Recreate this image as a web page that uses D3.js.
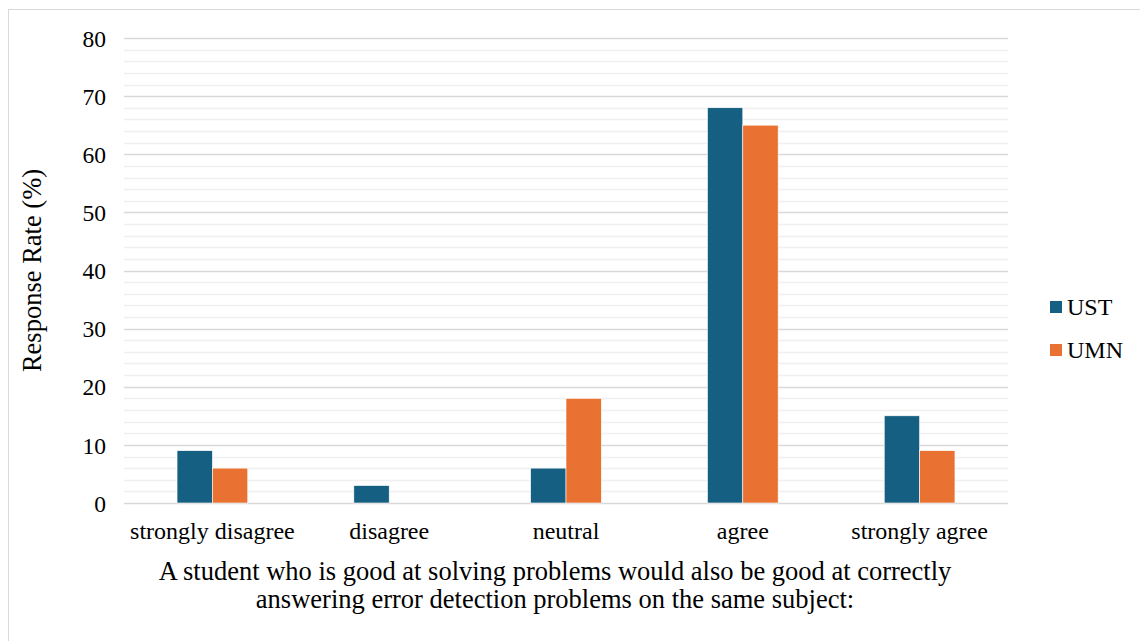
<!DOCTYPE html>
<html>
<head>
<meta charset="utf-8">
<script src="https://cdn.jsdelivr.net/npm/d3@7"></script>
<style>
  html, body { margin: 0; padding: 0; background: #fff; }
  svg { display: block; }
  text { font-family: "Liberation Serif", "Times New Roman", serif; fill: #000; }
</style>
</head>
<body>
<svg id="chart" width="1140" height="641"></svg>
<script>
const categories = ["strongly disagree", "disagree", "neutral", "agree", "strongly agree"];
const seriesNames = ["UST", "UMN"];
const ustValues = [9, 3, 6, 68, 15];
const umnValues = [6, 0, 18, 65, 9];
const yTicks = [0, 10, 20, 30, 40, 50, 60, 70, 80];
const colors = ["#156082", "#E97132"];
const xTitleLines = [
  "A student who is good at solving problems would also be good at correctly",
  "answering error detection problems on the same subject:"
];
const yTitle = "Response Rate (%)";

const svg = d3.select("#chart");
const W = 1140, H = 641;
const plot = { left: 124, right: 1008, top: 38, bottom: 503 };
const serif = "Liberation Serif";

// outer chart frame
svg.append("rect")
  .attr("x", 8.5).attr("y", 9.5)
  .attr("width", W).attr("height", H)
  .attr("fill", "#fff").attr("stroke", "#d9d9d9").attr("stroke-width", 1);

const y = d3.scaleLinear().domain([0, 80]).range([plot.bottom, plot.top]);
const x0 = d3.scaleBand().domain(categories).range([plot.left, plot.right]).paddingInner(0).paddingOuter(0);
const x1 = d3.scaleBand().domain(seriesNames).range([0, x0.bandwidth() * 0.4]);

// minor gridlines every 2
const minor = d3.range(2, 80, 2).filter(v => v % 10 !== 0);
svg.append("g").selectAll("line").data(minor).join("line")
  .attr("x1", plot.left).attr("x2", plot.right)
  .attr("y1", d => Math.round(y(d)) + 0.5).attr("y2", d => Math.round(y(d)) + 0.5)
  .attr("stroke", "#f0f0f0").attr("stroke-width", 1.5);

// major gridlines
svg.append("g").selectAll("line").data(yTicks).join("line")
  .attr("x1", plot.left).attr("x2", plot.right)
  .attr("y1", d => Math.round(y(d)) + 0.5).attr("y2", d => Math.round(y(d)) + 0.5)
  .attr("stroke", "#d9d9d9").attr("stroke-width", 1.5);

// y axis labels
const yAxis = d3.axisLeft(y).tickValues(yTicks).tickSize(0).tickPadding(0).tickFormat(d3.format("d"));
const gy = svg.append("g").attr("transform", `translate(${plot.left - 18},0)`).call(yAxis);
gy.select(".domain").remove();
gy.selectAll("text").attr("font-size", 23.5).attr("font-family", serif).attr("fill", "#000").attr("dy", "0.35em");

// bars
const rows = categories.map((c, i) => ({ cat: c, vals: [ustValues[i], umnValues[i]] }));
const groups = svg.append("g").selectAll("g").data(rows).join("g")
  .attr("transform", d => `translate(${x0(d.cat) + x0.bandwidth() * 0.3},0)`);
groups.selectAll("rect").data(d => d.vals.map((v, j) => ({ name: seriesNames[j], v, j }))).join("rect")
  .filter(d => d.v > 0)
  .attr("x", d => x1(d.name))
  .attr("y", d => y(d.v))
  .attr("width", x1.bandwidth())
  .attr("height", d => y(0) - y(d.v))
  .attr("fill", d => colors[d.j])
  .attr("stroke", "#fff").attr("stroke-width", 0.6);

// x axis labels
const xAxis = d3.axisBottom(x0).tickSize(0).tickPadding(0);
const gx = svg.append("g").attr("transform", `translate(0,${plot.bottom + 28})`).call(xAxis);
gx.select(".domain").remove();
gx.selectAll("text").attr("font-size", 24).attr("font-family", serif).attr("fill", "#000").attr("dy", "0.35em");

// x axis title (two lines)
const cx = 555;
svg.append("text").attr("x", cx).attr("y", 571).attr("text-anchor", "middle")
  .attr("font-size", 26.5).attr("dy", "0.35em").text(xTitleLines[0]);
svg.append("text").attr("x", cx).attr("y", 599).attr("text-anchor", "middle")
  .attr("font-size", 26.5).attr("dy", "0.35em").text(xTitleLines[1]);

// y axis title
svg.append("text")
  .attr("transform", `translate(32,${(plot.top + plot.bottom) / 2}) rotate(-90)`)
  .attr("text-anchor", "middle").attr("font-size", 26.5).attr("dy", "0.35em").text(yTitle);

// legend
const legend = svg.append("g").selectAll("g").data(seriesNames).join("g")
  .attr("transform", (d, i) => `translate(1050,${301 + i * 43})`);
legend.append("rect").attr("width", 12).attr("height", 12).attr("fill", (d, i) => colors[i]);
legend.append("text").attr("x", 17).attr("y", 6).attr("dy", "0.35em").attr("font-size", 24).text(d => d);
</script>
</body>
</html>
